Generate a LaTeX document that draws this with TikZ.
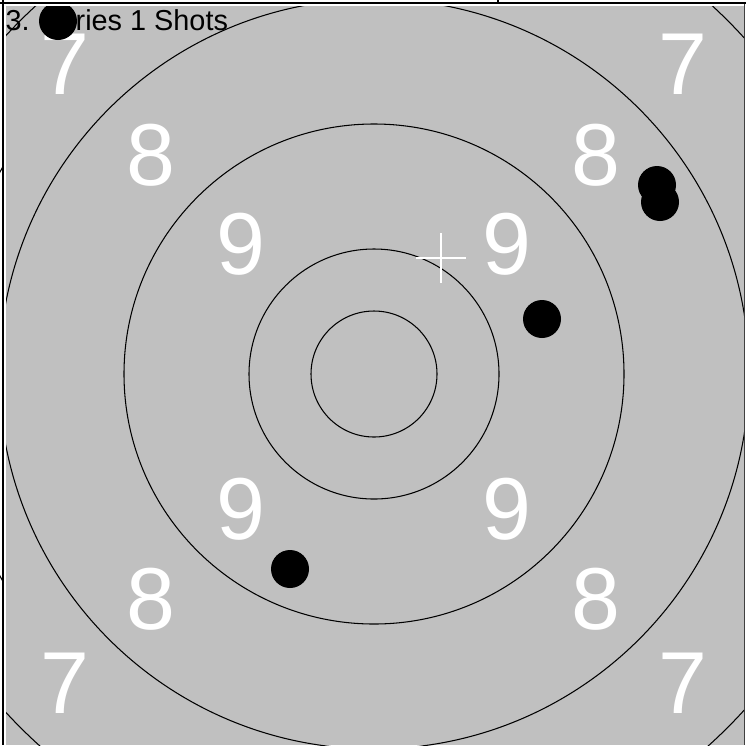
\documentclass[tikz,border=0pt]{standalone}
\usepackage{fontspec}
\setmainfont{Liberation Sans}
\usepackage{xcolor}
\usepackage{tikz}
\usetikzlibrary{calc}
\definecolor{tgray}{HTML}{C0C0C0}
\definecolor{tink}{HTML}{000000}

\begin{document}
\begin{tikzpicture}[x=0.01cm,y=-0.01cm,
    ring/.style={draw=tink,line width=0.3pt},
    ringnum/.style={text=white,inner sep=0pt,font=\fontsize{25}{30}\selectfont},
    shot/.style={fill=tink}]
      \useasboundingbox (0,0) rectangle (746,745);
      \fill[white] (0,0) rectangle (746,745);
      \fill[tgray] (6,6) rectangle (744,745);
      % frame lines
      \draw[draw=tink,line width=0.45pt] (0,3) -- (746,3);
      \draw[draw=tink,line width=0.45pt] (3,0) -- (3,745);
      \draw[draw=tink,line width=0.3pt] (498,0) -- (498,3);
      \draw[draw=tink!75,line width=0.3pt] (744.5,4) -- (744.5,745);
      \begin{scope}
        \clip (0,0) rectangle (2,745);
        \draw[ring] (374,374) circle[radius=425];
      \end{scope}
      \coordinate (ctr) at (374,374);
      \begin{scope}
        \clip (6,6) rectangle (744,745);
        \foreach \r in {63,125,250,375,500}
          \draw[ring] (ctr) circle[radius=\r];
        % ring numbers
        \node[ringnum] (sevenTL) at (65,64) {7};
        \node[ringnum] (sevenTR) at (683,64) {7};
        \node[ringnum] (sevenBL) at (65,683) {7};
        \node[ringnum] (sevenBR) at (683,683) {7};
        \node[ringnum] (eightTL) at (151,155) {8};
        \node[ringnum] (eightTR) at (596,155) {8};
        \node[ringnum] (eightBL) at (151,599) {8};
        \node[ringnum] (eightBR) at (596,599) {8};
        \node[ringnum] (nineTL) at (241,244) {9};
        \node[ringnum] (nineTR) at (507,244) {9};
        \node[ringnum] (nineBL) at (241,509) {9};
        \node[ringnum] (nineBR) at (507,509) {9};
        \node[anchor=base west,inner sep=0pt,text=tink,font=\fontsize{8.2}{10}\selectfont] (title) at (5,30) {3. Series 1 Shots};
        % aiming cross
        \coordinate (aim) at (441,258);
        \draw[draw=white,line width=0.35pt] ($(aim)+(-25,0)$) -- ($(aim)+(25,0)$);
        \draw[draw=white,line width=0.35pt] ($(aim)+(0,-25)$) -- ($(aim)+(0,25)$);
        % shots
        \fill[shot] (58,21) circle[radius=19];
        \fill[shot] (657,185) circle[radius=19];
        \fill[shot] (660,202) circle[radius=19];
        \fill[shot] (542,319) circle[radius=19];
        \fill[shot] (290,569) circle[radius=19];
      \end{scope}
    \end{tikzpicture}
\end{document}
